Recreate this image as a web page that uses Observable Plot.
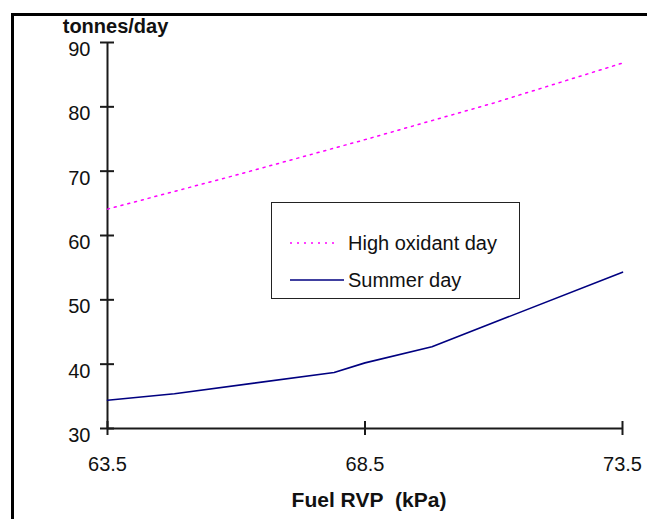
<!DOCTYPE html>
<html><head><meta charset="utf-8">
<script src="https://cdn.jsdelivr.net/npm/d3@7"></script>
<script src="https://cdn.jsdelivr.net/npm/@observablehq/plot@0.6"></script>
<style>
html,body{margin:0;padding:0;background:#fff;overflow:hidden;width:647px;height:519px;}
#wrap{position:relative;width:647px;height:519px;overflow:hidden;}
#frame{position:absolute;left:11px;top:13px;width:700px;height:600px;border:3px solid #000;box-sizing:border-box;pointer-events:none}
#legend{position:absolute;left:271px;top:202px;width:249px;height:97px;border:1.5px solid #222;box-sizing:border-box;background:#fff;font-family:"Liberation Sans",Arial,sans-serif;font-size:20px;color:#111;}
#legend .item{position:absolute;left:0;height:30px;display:flex;align-items:center;white-space:nowrap}
#legend svg{display:block}
#chart{position:absolute;left:0;top:0}
</style>
</head><body>
<div id="wrap"><div id="chart"></div><div id="frame"></div><div id="legend"></div></div>
<script>
// Fuel RVP (kPa) vs emissions (tonnes/day)
const seriesNames = ["High oxidant day", "Summer day"];
const highRvp = [63.5, 66, 68.5, 71, 73.5];
const highVals = [64.1, 69.4, 74.9, 80.6, 86.8];
const summerRvp = [63.5, 64.8, 67.9, 68.5, 69.8, 73.5];
const summerVals = [34.4, 35.4, 38.7, 40.2, 42.7, 54.3];
const xTicks = [63.5, 68.5, 73.5];
const yTicks = [30, 40, 50, 60, 70, 80, 90];
const xTitle = "Fuel RVP\u00a0 (kPa)";
const yTitle = "tonnes/day";

const highData = highRvp.map((x, i) => ({x, y: highVals[i]}));
const summerData = summerRvp.map((x, i) => ({x, y: summerVals[i]}));

const font = "'Liberation Sans', Arial, sans-serif";
const chart = Plot.plot({
  width: 647, height: 519,
  marginLeft: 107, marginRight: 25, marginTop: 42, marginBottom: 91,
  x: {domain: [63.5, 73.5]},
  y: {domain: [30, 90]},
  style: {fontFamily: font, fontSize: "20px", color: "#111", background: "transparent", overflow: "visible"},
  marks: [
    Plot.ruleY([30], {stroke: "#1a1a1a", strokeWidth: 2}),
    Plot.ruleX([63.5], {stroke: "#1a1a1a", strokeWidth: 2}),
    Plot.axisY({ticks: yTicks, tickSize: 14, dx: 7, tickFormat: () => "", label: null, stroke: "#1a1a1a", strokeWidth: 2}),
    Plot.axisY({ticks: yTicks, tickSize: 0, tickPadding: 17, dy: 7, label: null, fontSize: 20, fill: "#111"}),
    Plot.axisX({ticks: xTicks, tickSize: 14, dy: -7, tickFormat: () => "", label: null, stroke: "#1a1a1a", strokeWidth: 2}),
    Plot.axisX({ticks: xTicks, tickSize: 0, tickPadding: 28, label: null, fontSize: 20, fill: "#111", tickFormat: d => d.toFixed(1)}),
    Plot.line(highData, {x: "x", y: "y", stroke: "#ff00ff", strokeWidth: 1.5, strokeDasharray: "2,5", curve: "linear"}),
    Plot.line(summerData, {x: "x", y: "y", stroke: "#000080", strokeWidth: 1.6, curve: "linear"}),
    Plot.text([yTitle], {frameAnchor: "top-left", text: d => d, textAnchor: "middle", lineAnchor: "bottom", dx: 8, dy: -10, fontWeight: "bold", fontSize: 20, fill: "#111"}),
    Plot.text([xTitle], {frameAnchor: "bottom", text: d => d, textAnchor: "middle", lineAnchor: "bottom", dy: 78, dx: 4, fontWeight: "bold", fontSize: 21, fill: "#111"})
  ]
});
document.getElementById("chart").appendChild(chart);

// legend
const legend = document.getElementById("legend");
const styles = [
  {stroke: "#ff00ff", dash: "2,5", w: 48, top: 25},
  {stroke: "#000080", dash: null, w: 54, top: 62}
];
seriesNames.forEach((name, i) => {
  const s = styles[i];
  const item = document.createElement("div");
  item.className = "item";
  item.style.top = s.top + "px";
  item.style.left = "18px";
  item.innerHTML = `<svg width="58" height="10"><line x1="0" x2="${s.w}" y1="5" y2="5" stroke="${s.stroke}" stroke-width="1.5" ${s.dash ? `stroke-dasharray="${s.dash}"` : ""}/></svg><span style="margin-left:0px">${name}</span>`;
  legend.appendChild(item);
});
</script>
</body></html>
